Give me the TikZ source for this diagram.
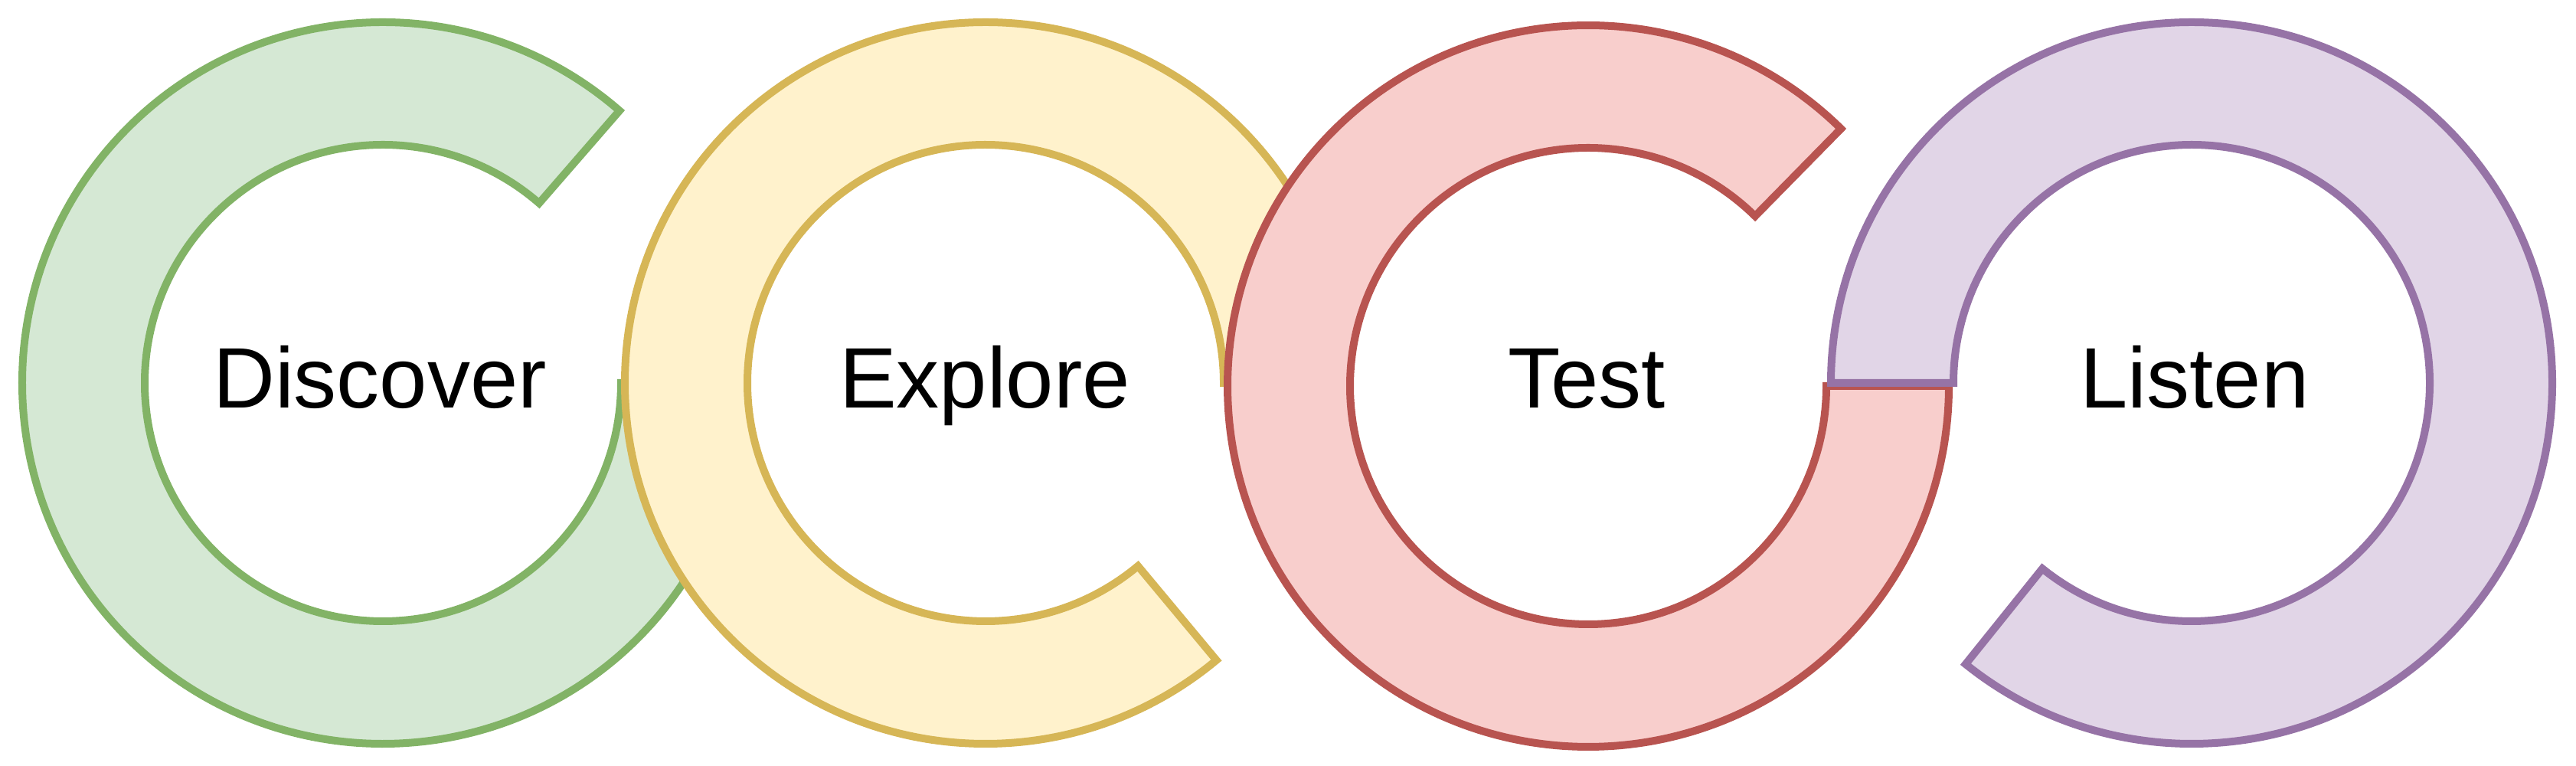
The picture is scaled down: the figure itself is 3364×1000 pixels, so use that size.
\documentclass[tikz,border=0pt]{standalone}
\usepackage{fontspec}
\setmainfont{Liberation Sans}
\usetikzlibrary{calc}
\definecolor{gS}{HTML}{82B366}\definecolor{gF}{HTML}{D5E8D4}
\definecolor{yS}{HTML}{D6B656}\definecolor{yF}{HTML}{FFF2CC}
\definecolor{rS}{HTML}{B85450}\definecolor{rF}{HTML}{F8CECC}
\definecolor{pS}{HTML}{9673A6}\definecolor{pF}{HTML}{E1D5E7}
\begin{document}
\begin{tikzpicture}[x=1pt,y=1pt,
  ring/.style={line width=10pt, line join=miter},
  greenring/.style={ring, draw=gS, fill=gF},
  yellowring/.style={ring, draw=yS, fill=yF},
  redring/.style={ring, draw=rS, fill=rF},
  purplering/.style={ring, draw=pS, fill=pF},
  lbl/.style={font=\fontsize{112pt}{134pt}\selectfont, inner sep=0pt, anchor=base, text=black}]
\useasboundingbox (0,0) rectangle (3364,1000);
\def\Ro{471}\def\Ri{311}
\coordinate (cD) at (500,500);
\coordinate (cE) at (1287,500);
\coordinate (cT) at (2074,496);
\coordinate (cL) at (2862,500);
% Discover
\path[greenring] ($(cD)+(49:\Ro)$) arc[start angle=49, end angle=360, radius=\Ro]
  -- ($(cD)+(360:\Ri)$) arc[start angle=360, end angle=49, radius=\Ri] -- cycle;
% Explore
\path[yellowring] ($(cE)+(0:\Ro)$) arc[start angle=0, end angle=309.8, radius=\Ro]
  -- ($(cE)+(309.8:\Ri)$) arc[start angle=309.8, end angle=0, radius=\Ri] -- cycle;
% Test
\path[redring] ($(cT)+(45.5:\Ro)$) arc[start angle=45.5, end angle=360, radius=\Ro]
  -- ($(cT)+(360:\Ri)$) arc[start angle=360, end angle=45.5, radius=\Ri] -- cycle;
% Listen
\path[purplering] ($(cL)+(180:\Ro)$) arc[start angle=180, end angle=-128.8, radius=\Ro]
  -- ($(cL)+(-128.8:\Ri)$) arc[start angle=-128.8, end angle=180, radius=\Ri] -- cycle;
% labels
\node[lbl] (tD) at (496,467) {Discover};
\node[lbl] (tE) at (1286,467) {Explore};
\node[lbl] (tT) at (2072,467) {Test};
\node[lbl] (tL) at (2866,467) {Listen};
\end{tikzpicture}
\end{document}
